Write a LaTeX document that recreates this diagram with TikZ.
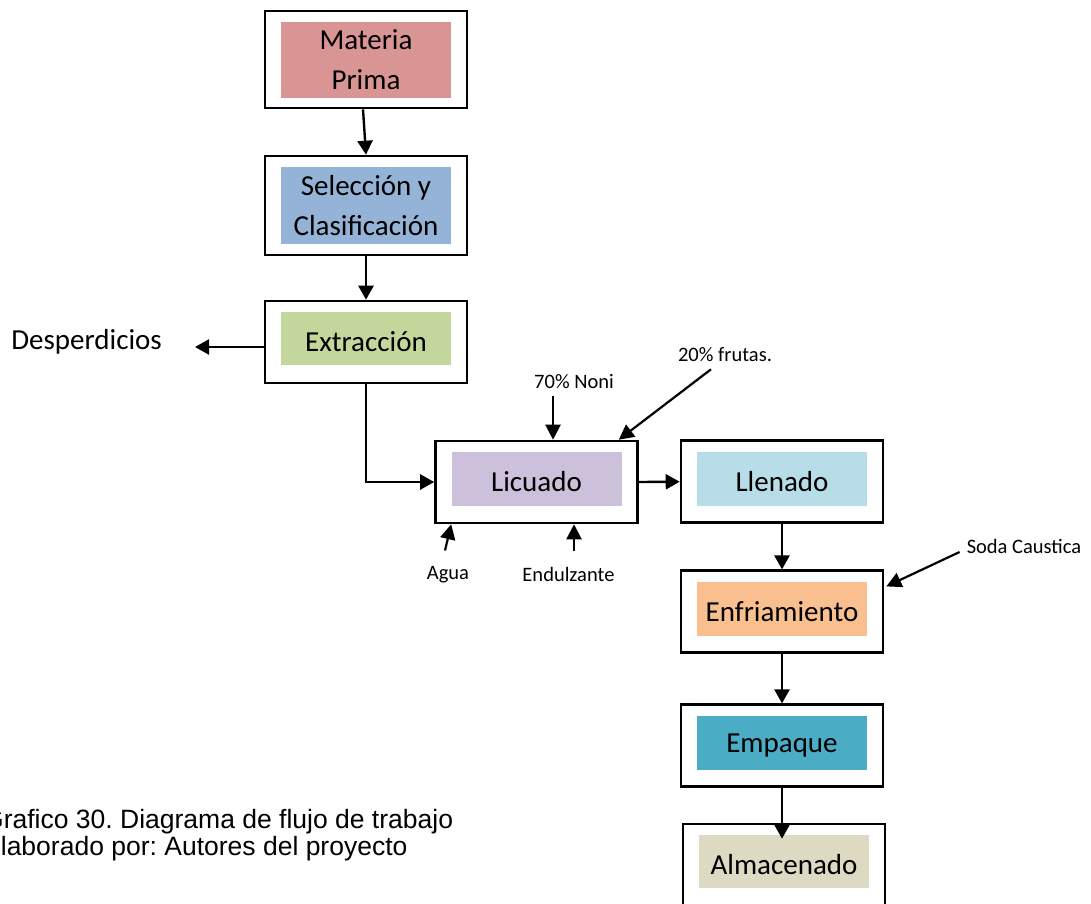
\documentclass[tikz,border=0pt]{standalone}
\usepackage{fontspec}
\setmainfont{Carlito}
\newfontfamily\captfont{Liberation Sans}
\usetikzlibrary{positioning,arrows.meta,calc}
\definecolor{mpcol}{HTML}{D99594}
\definecolor{selcol}{HTML}{95B3D7}
\definecolor{extcol}{HTML}{C3D69B}
\definecolor{liccol}{HTML}{CCC0DA}
\definecolor{llecol}{HTML}{B7DDE8}
\definecolor{enfcol}{HTML}{FABF8F}
\definecolor{empcol}{HTML}{4BACC6}
\definecolor{almcol}{HTML}{DDD9C3}
\frenchspacing

\begin{document}
\begin{tikzpicture}[
  x=1pt, y=-1pt,
  stage/.style 2 args={
    draw=black, line width=2.6pt, fill=white, inner sep=0pt,
    minimum width=202pt, minimum height=82pt, align=center,
    font=\fontsize{29}{40}\selectfont,
    path picture={\fill[#1]
      ([xshift=16pt,yshift=#2]path picture bounding box.south west) rectangle
      ([xshift=-16pt,yshift=-11pt]path picture bounding box.north east);},
  },
  lbl/.style={inner sep=0pt, font=\fontsize{20.5}{24}\selectfont},
  capt/.style={inner sep=0pt, font=\captfont\fontsize{26.5}{30}\selectfont},
  flow/.style={-{Triangle[length=14pt,width=15pt]}, line width=2.4pt},
  feed/.style={-{Triangle[length=15pt,width=15pt]}, line width=2.2pt},
]
\useasboundingbox (0,0) rectangle (1091,903);

% ============================================================
% MAIN LINE: from raw material to extraction
% ============================================================
\node[stage={mpcol}{10pt}, minimum height=97pt] (mp) at (366,59.5) {Materia\\Prima};
\node[stage={selcol}{11pt}, minimum height=99pt] (sel) at (366,205.5) {Selección y\\Clasificación};
\node[stage={extcol}{18pt}] (ext) at (366,342) {Extracción};

\node[inner sep=0pt, font=\fontsize{29}{34}\selectfont, anchor=east] (desp) at (162,342) {Desperdicios};

\draw[flow] ([xshift=-3pt]mp.south) -- (sel.north);
\draw[flow] (sel.south) -- (ext.north);
\draw[flow] ([yshift=-5pt]ext.west) -- ([xshift=33pt,yshift=-5pt]desp.east);

% ============================================================
% BLENDING and its inputs
% ============================================================
\node[stage={liccol}{17pt}] (lic) at (536.5,482) {Licuado};

\node[lbl] (noni) at (574,382) {70\% Noni};
\node[lbl] (frutas) at (725,355) {20\% frutas.};
\node[lbl] (agua) at (448,575) {Agua};
\node[lbl] (endul) at (568.5,574) {Endulzante};

\draw[flow] (ext.south) |- (lic.west);
\draw[feed] ([xshift=-21pt,yshift=-7pt]noni.south) -- ([xshift=16.5pt]lic.north);
\draw[feed] ([xshift=-14pt,yshift=-7pt]frutas.south) -- ([xshift=-20pt]lic.north east);
\draw[feed] ([xshift=-3pt,yshift=16pt]agua.north) -- ([xshift=17pt]lic.south west);
\draw[feed] ([xshift=5.5pt,yshift=16pt]endul.north) -- ([xshift=37.5pt]lic.south);

% ============================================================
% RIGHT COLUMN: filling down to storage
% ============================================================
\node[stage={llecol}{17pt}] (lle) at (782,481.7) {Llenado};
\node[stage={enfcol}{17pt}] (enf) at (782,611.7) {Enfriamiento};
\node[stage={empcol}{17pt}] (emp) at (782,745.7) {Empaque};
\node[stage={almcol}{17pt}, minimum height=81pt] (alm) at (784,864.5) {Almacenado};

\node[lbl] (soda) at (1024,546) {Soda Caustica};

\draw[flow] (lic.east) -- (lle.west);
\draw[flow] (lle.south) -- (enf.north);
\draw[flow] (enf.south) -- (emp.north);
\draw[flow] (emp.south) -- ([xshift=-2pt,yshift=-16pt]alm.north);
\draw[feed] ([xshift=-7pt,yshift=-6pt]soda.west) -- ([xshift=2pt,yshift=-17pt]enf.north east);

% Caption
\node[capt, anchor=base west] (cap1) at (-17,828) {Grafico 30. Diagrama de flujo de trabajo};
\node[capt, anchor=base west] (cap2) at (-17,855) {Elaborado por: Autores del proyecto};

\end{tikzpicture}
\end{document}
